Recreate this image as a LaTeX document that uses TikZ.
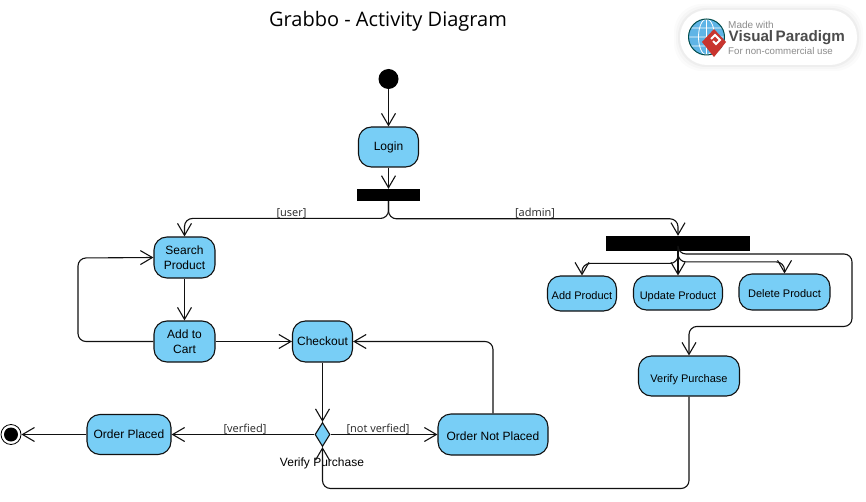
\documentclass[tikz,border=0pt]{standalone}
\usepackage{fontspec}
\setmainfont{Liberation Sans}
\newfontfamily\opensans{Open Sans}
\usetikzlibrary{arrows.meta,shapes.geometric,calc}
\definecolor{actfill}{HTML}{78CEF6}
\definecolor{inkline}{HTML}{111111}
\definecolor{globeblue}{HTML}{5FB4E6}
\definecolor{logored}{HTML}{C8352F}
\tikzset{
  activity/.style={draw=inkline,line width=1.1pt,fill=actfill,rounded corners=13pt,inner sep=0pt,align=center,font=\fontsize{12}{15}\selectfont,text=black},
  smallact/.style={activity,font=\fontsize{11}{13}\selectfont,text height=12pt,text depth=0pt},
  barbar/.style={fill=black,draw=none,inner sep=0pt},
  flow/.style={draw=inkline,line width=1.1pt,rounded corners=8pt,-{Straight Barb[length=12pt,width=14pt,line width=1.1pt]}},
  guard/.style={font=\opensans\fontsize{11}{12}\selectfont,text=black!85,inner sep=0pt},
  logotext/.style={text=black!45,inner sep=0pt,anchor=west},
}
\begin{document}
\begin{tikzpicture}[x=1pt,y=-1pt]
\useasboundingbox (0,0) rectangle (866,502);
\node[inner sep=0pt,font=\opensans\fontsize{20}{24}\selectfont] (title) at (388,21) {Grabbo - Activity Diagram};
% badge
\foreach \g/\o in {6/.015,4/.02,2/.03}{
  \fill[black,opacity=\o,rounded corners=28pt] (680-\g,10-\g) rectangle (857+\g,65+\g);
}
\fill[white,rounded corners=27pt] (680,10) rectangle (857,65);
\fill[globeblue] (706.5,37) circle (18);
\draw[white,line width=.8pt] (706.5,37) ellipse (8 and 18) (706.5,19)--(706.5,55) (688.5,37)--(724.5,37) (691,28)--(722,28) (691,46)--(722,46);
\draw[black!40!teal,line width=1pt] (706.5,37) circle (18);
\fill[logored] (714,29) -- (726,42) -- (714,57) -- (702,42) -- cycle;
\draw[white,line width=1.8pt] (711,39) -- (715,35) -- (720,40) -- (716,44) -- (713,41);
\node[logotext,font=\fontsize{10}{11}\selectfont] (lg1) at (728,25) {Made with};
\node[logotext,font=\bfseries\fontsize{15.2}{16}\selectfont,text=black!70] (lg2) at (728.5,38) {Visual\,Paradigm};
\node[logotext,font=\fontsize{9.7}{11}\selectfont] (lg3) at (728,51.5) {For non-commercial use};
% nodes
\node[circle,fill=black,inner sep=0pt,minimum size=20pt] (start) at (388.5,79) {};
\node[activity,minimum width=60pt,minimum height=40pt] (login) at (388.5,147) {Login};
\node[barbar,minimum width=63pt,minimum height=12pt] (fork1) at (388.5,195) {};
\node[barbar,minimum width=144pt,minimum height=15pt] (fork2) at (678,243.5) {};
\node[activity,minimum width=61pt,minimum height=41pt] (search) at (184.5,257.5) {Search\\Product};
\node[activity,minimum width=61pt,minimum height=41pt] (cart) at (184.5,341.5) {Add to\\Cart};
\node[activity,minimum width=60pt,minimum height=41pt] (checkout) at (322.5,341.5) {Checkout};
\node[activity,minimum width=84pt,minimum height=40pt] (placed) at (129,434.5) {Order Placed};
\node[activity,text height=11pt,text depth=0pt,minimum width=110pt,minimum height=41pt] (notplaced) at (493,434.5) {Order Not Placed};
\node[smallact,minimum width=69pt,minimum height=35pt] (addp) at (582,293.5) {Add Product};
\node[smallact,minimum width=89pt,minimum height=34pt] (updp) at (678,293) {Update Product};
\node[smallact,minimum width=91pt,minimum height=36pt] (delp) at (784.5,292) {Delete Product};
\node[smallact,minimum width=101pt,minimum height=40pt] (verify) at (689,376) {Verify Purchase};
\node[diamond,draw=inkline,line width=1.1pt,fill=actfill,inner sep=0pt,minimum width=15pt,minimum height=24pt,aspect=.6] (dec) at (322.5,434.5) {};
\node[circle,draw=black,fill=white,line width=.8pt,inner sep=0pt,minimum size=20pt] (end) at (11,434.5) {};
\fill[black] (end.center) circle (7);
\node[inner sep=0pt,font=\fontsize{12}{14}\selectfont] (declabel) at (322,463) {Verify Purchase};
% connectors
\draw[flow] (start) -- (login);
\draw[flow] (login) -- (fork1);
\draw[flow] (fork1.south) |- ($(search.north)+(0,-18)$) -- (search.north);
\draw[flow] (fork1.south) |- ($(fork2.north)+(0,-17)$) -- (fork2.north);
\draw[flow] (fork2.south) |- ($(addp.north)+(0,-12)$) -- (addp.north);
\draw[flow] (fork2.south) -- (updp.north);
\draw[flow] (fork2.south) |- ($(delp.north)+(0,-11.5)$) -- (delp.north);
\draw[flow] (fork2.south) |- (852,254) |- ($(verify.north)+(0,-29)$) -- (verify.north);
\draw[flow] (search) -- (cart);
\draw[flow] (cart.west) -| (78,258) -- (search.west);
\draw[flow] (cart) -- (checkout);
\draw[flow] (checkout) -- (dec.north);
\draw[flow] (dec.west) -- (placed.east);
\draw[flow] (dec.east) -- (notplaced.west);
\draw[flow] (notplaced.north) |- (checkout.east);
\draw[flow] (placed.west) -- (end.east);
\draw[flow] (verify.south) |- (322.5,488.5) -- (dec.south);
% guards
\node[guard] (gu) at (291.5,213) {[user]};
\node[guard] (ga) at (535,213) {[admin]};
\node[guard] (gv) at (245,429) {[verfied]};
\node[guard] (gn) at (378,429) {[not verfied]};
\end{tikzpicture}
\end{document}
